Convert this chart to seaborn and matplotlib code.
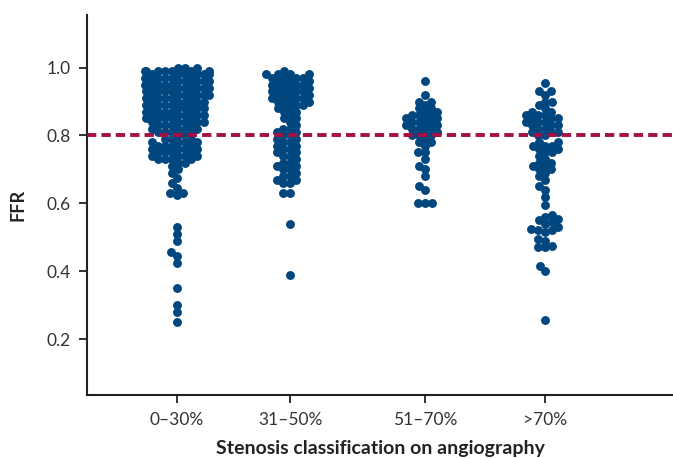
import warnings
import numpy as np
import pandas as pd
import matplotlib
matplotlib.use("Agg")
import matplotlib.pyplot as plt
import seaborn as sns

warnings.filterwarnings("ignore")

# categorias de estenose (eixo x)
categorias = ["0\u201330%", "31\u201350%", "51\u201370%", ">70%"]

# valores de FFR, por categoria
ffr_0_30 = [
    0.99, 1.00, 0.99, 0.98, 1.00, 0.99, 0.99, 0.98, 0.99, 1.00, 0.98, 0.99,
    0.98, 0.97, 0.97, 0.98, 0.97, 0.96, 0.97, 0.98, 0.97, 0.96, 0.99, 0.97,
    0.96, 0.95, 0.96, 0.95, 0.96, 0.95, 0.94, 0.95, 0.96, 0.95, 0.94,
    0.94, 0.93, 0.94, 0.93, 0.94, 0.92, 0.93, 0.94, 0.95, 0.93, 0.92,
    0.92, 0.91, 0.92, 0.93, 0.91, 0.92, 0.90, 0.91, 0.92, 0.91,
    0.90, 0.89, 0.90, 0.91, 0.89, 0.90, 0.88, 0.89, 0.90, 0.89,
    0.88, 0.87, 0.88, 0.89, 0.87, 0.88, 0.86, 0.87, 0.88, 0.87,
    0.86, 0.85, 0.86, 0.87, 0.85, 0.86, 0.84, 0.85, 0.86, 0.85,
    0.84, 0.83, 0.84, 0.85, 0.83, 0.84, 0.82, 0.83, 0.84,
    0.82, 0.81, 0.82, 0.83, 0.81, 0.80, 0.81, 0.82, 0.80, 0.81,
    0.79, 0.78, 0.79, 0.78, 0.77, 0.79, 0.78, 0.77, 0.76, 0.78,
    0.77, 0.76, 0.75, 0.77, 0.76, 0.75, 0.74, 0.76, 0.75, 0.74,
    0.73, 0.75, 0.74, 0.73, 0.72, 0.73, 0.74, 0.71, 0.72, 0.73,
    0.70, 0.69, 0.675, 0.66, 0.645, 0.63, 0.625, 0.63,
    0.53, 0.51, 0.49, 0.455, 0.445, 0.425, 0.35, 0.30, 0.28, 0.25,
]
ffr_31_50 = [
    0.98, 0.98, 0.97, 0.98, 0.99, 0.98, 0.97,
    0.96, 0.97, 0.95, 0.96, 0.97, 0.95, 0.96,
    0.94, 0.95, 0.93, 0.94, 0.95, 0.93, 0.94,
    0.92, 0.93, 0.91, 0.92, 0.93, 0.91, 0.92,
    0.90, 0.91, 0.89, 0.90, 0.91, 0.89, 0.90,
    0.88, 0.89, 0.87, 0.88, 0.87,
    0.86, 0.85, 0.85, 0.84, 0.83,
    0.82, 0.81, 0.82, 0.80, 0.81, 0.80, 0.79,
    0.79, 0.78, 0.77, 0.78, 0.76, 0.77, 0.75, 0.76,
    0.74, 0.75, 0.73, 0.74,
    0.72, 0.71, 0.70, 0.71, 0.72, 0.70, 0.69,
    0.68, 0.67, 0.66, 0.67, 0.66, 0.68,
    0.63, 0.63, 0.54, 0.39,
]
ffr_51_70 = [
    0.96, 0.92, 0.90, 0.89, 0.90,
    0.88, 0.87, 0.88, 0.86, 0.87, 0.86, 0.85, 0.86, 0.85, 0.84,
    0.85, 0.84, 0.83, 0.84, 0.83, 0.82, 0.83, 0.82, 0.81, 0.82,
    0.80, 0.80, 0.81, 0.80, 0.79,
    0.78, 0.78, 0.77, 0.75, 0.75, 0.73, 0.71, 0.70, 0.68,
    0.65, 0.64, 0.60, 0.60, 0.60,
]
ffr_70 = [
    0.955, 0.93, 0.92, 0.93, 0.90, 0.89, 0.90, 0.88,
    0.87, 0.86, 0.87, 0.86, 0.85, 0.86, 0.85, 0.84, 0.85, 0.84,
    0.83, 0.84, 0.83, 0.82, 0.83,
    0.81, 0.82, 0.81, 0.80, 0.81, 0.80,
    0.78, 0.77, 0.78, 0.77, 0.76, 0.77, 0.75, 0.76, 0.74, 0.75, 0.73,
    0.72, 0.71, 0.72, 0.70, 0.71, 0.70, 0.69,
    0.68, 0.67, 0.65, 0.64, 0.62, 0.595,
    0.565, 0.56, 0.555, 0.55, 0.54, 0.545, 0.53, 0.525, 0.52, 0.52, 0.515,
    0.495, 0.49, 0.475, 0.47, 0.47,
    0.415, 0.40, 0.255,
]

limiar_ffr = 0.80

# posicoes horizontais dos grupos (layout, espacamento irregular como no original)
posicoes = [1.0, 2.42, 4.1, 5.6]

grupos = [ffr_0_30, ffr_31_50, ffr_51_70, ffr_70]
df = pd.concat(
    [pd.DataFrame({"Estenose": cat, "pos": p, "FFR": vals})
     for cat, p, vals in zip(categorias, posicoes, grupos)],
    ignore_index=True,
)

sns.set_style("ticks")
plt.rcParams["font.family"] = ["Lato", "DejaVu Sans"]

fig = plt.figure(figsize=(6.73, 4.58), dpi=100)
ax = fig.add_axes([87 / 673, 1 - 395 / 458, 1 - 87 / 673, 380 / 458])

cor_pontos = "#00467F"
tamanho_layout = 4.8   # tamanho usado para arranjar o enxame (pontos se sobrepoem)
tamanho_ponto = 6.4    # tamanho final desenhado
for cat in categorias:
    sub = df[df["Estenose"] == cat]
    sns.swarmplot(data=sub, x="pos", y="FFR", native_scale=True, orient="x",
                  color=cor_pontos, size=tamanho_layout, linewidth=0, ax=ax, zorder=2)

ax.axhline(limiar_ffr, color="#A50F45", linewidth=2.8, dashes=(2.4, 1.3), zorder=3)

ax.set_xlim(-0.12, 7.2)
ax.set_ylim(0.035, 1.155)
ax.set_yticks([0.2, 0.4, 0.6, 0.8, 1.0])
ax.set_yticklabels(["0.2", "0.4", "0.6", "0.8", "1.0"])
ax.set_xticks(posicoes)
ax.set_xticklabels(categorias)
ax.tick_params(axis="both", direction="out", length=6, width=1.3, color="#222222",
               labelsize=12.5, labelcolor="#333333", pad=6)
ax.set_xlabel("Stenosis classification on angiography", fontsize=14,
              fontweight="bold", color="#222222", labelpad=9)
ax.set_ylabel("FFR", fontsize=13, fontweight="bold", color="#222222", labelpad=14)

for lado in ["top", "right"]:
    ax.spines[lado].set_visible(False)
for lado in ["left", "bottom"]:
    ax.spines[lado].set_linewidth(1.5)
    ax.spines[lado].set_color("#222222")

# fixa o arranjo do enxame e depois aumenta os pontos
fig.canvas.draw()
for coll in ax.collections:
    if "draw" in coll.__dict__:
        del coll.draw
    coll.set_sizes([tamanho_ponto ** 2])

fig.savefig("out.png", dpi=100)
